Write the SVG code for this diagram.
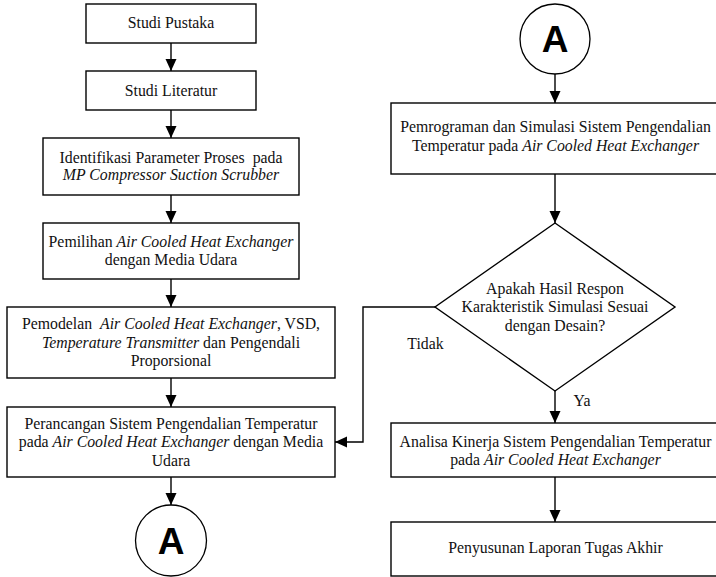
<svg xmlns="http://www.w3.org/2000/svg" width="716" height="577" viewBox="0 0 716 577">
<defs>
<style>
.box{fill:#fff;stroke:#000;stroke-width:1.4}
.t{font-family:'Liberation Serif','Times New Roman',serif;font-size:15.8px;fill:#111;text-anchor:middle}
.i{font-style:italic}
.c{fill:#fff;stroke:#000;stroke-width:1.3}
.ct{font-family:'Liberation Sans',Arial,sans-serif;font-weight:bold;font-size:37px;text-anchor:middle;fill:#000}
.ln{fill:none;stroke:#000;stroke-width:1.4}
</style>
<marker id="ah" markerWidth="12" markerHeight="12" viewBox="0 0 12 12" refX="12" refY="6" orient="auto" markerUnits="userSpaceOnUse">
<path d="M0,0.5 L12,6 L0,11.5 z" fill="#000"/>
</marker>
</defs>
<rect width="716" height="577" fill="#fff"/>

<g id="connectors">
<line class="ln" x1="171" y1="43" x2="171" y2="71" marker-end="url(#ah)"/>
<line class="ln" x1="171" y1="110" x2="171" y2="138" marker-end="url(#ah)"/>
<line class="ln" x1="171" y1="195" x2="171" y2="223" marker-end="url(#ah)"/>
<line class="ln" x1="171" y1="279" x2="171" y2="307" marker-end="url(#ah)"/>
<line class="ln" x1="171" y1="378" x2="171" y2="407" marker-end="url(#ah)"/>
<line class="ln" x1="171" y1="477" x2="171" y2="505" marker-end="url(#ah)"/>
<line class="ln" x1="555" y1="74" x2="555" y2="103" marker-end="url(#ah)"/>
<line class="ln" x1="555" y1="174" x2="555" y2="223" marker-end="url(#ah)"/>
<line class="ln" x1="555" y1="391" x2="555" y2="423" marker-end="url(#ah)"/>
<line class="ln" x1="555" y1="477" x2="555" y2="522" marker-end="url(#ah)"/>
<polyline class="ln" points="435,307 363,307 363,442 335,442" marker-end="url(#ah)"/>
<text class="t" x="425.5" y="349">Tidak</text>
<text class="t" x="582" y="406">Ya</text>
</g>

<g id="n1">
<rect class="box" x="86" y="4" width="170" height="39"/>
<text class="t" x="171" y="28">Studi Pustaka</text>
</g>
<g id="n2">
<rect class="box" x="86" y="71" width="170" height="39"/>
<text class="t" x="171" y="96">Studi Literatur</text>
</g>
<g id="n3">
<rect class="box" x="43" y="138" width="256" height="57"/>
<text class="t" x="171" y="163">Identifikasi Parameter Proses <tspan dx="4">pada</tspan></text>
<text class="t i" x="171" y="180">MP Compressor Suction Scrubber</text>
</g>
<g id="n4">
<rect class="box" x="43" y="223" width="256" height="56"/>
<text class="t" x="171" y="247">Pemilihan <tspan class="i">Air Cooled Heat Exchanger</tspan></text>
<text class="t" x="171" y="265">dengan Media Udara</text>
</g>
<g id="n5">
<rect class="box" x="7" y="307" width="328" height="71"/>
<text class="t" x="171" y="329">Pemodelan <tspan class="i" dx="4">Air Cooled Heat Exchanger</tspan>, VSD,</text>
<text class="t" x="171" y="348"><tspan class="i">Temperature Transmitter</tspan> dan Pengendali</text>
<text class="t" x="171" y="366">Proporsional</text>
</g>
<g id="n6">
<rect class="box" x="7" y="407" width="328" height="70"/>
<text class="t" x="171" y="429">Perancangan Sistem Pengendalian Temperatur</text>
<text class="t" x="171" y="447">pada <tspan class="i">Air Cooled Heat Exchanger</tspan> dengan Media</text>
<text class="t" x="171" y="466">Udara</text>
</g>
<g id="nA1">
<circle class="c" cx="171" cy="540.5" r="35.5"/>
<text class="ct" x="171" y="553.5">A</text>
</g>
<g id="nA2">
<circle class="c" cx="555" cy="39" r="35"/>
<text class="ct" x="555" y="52">A</text>
</g>
<g id="n7">
<rect class="box" x="391" y="103" width="328" height="71"/>
<text class="t" x="555.5" y="132">Pemrograman dan Simulasi Sistem Pengendalian</text>
<text class="t" x="555.5" y="151">Temperatur pada <tspan class="i">Air Cooled Heat Exchanger</tspan></text>
</g>
<g id="n8">
<polygon class="box" points="555,223 675,307 555,391 435,307"/>
<text class="t" x="555" y="294">Apakah Hasil Respon</text>
<text class="t" x="555" y="312">Karakteristik Simulasi Sesuai</text>
<text class="t" x="555" y="331">dengan Desain?</text>
</g>
<g id="n9">
<rect class="box" x="391" y="423" width="328" height="54"/>
<text class="t" x="555.5" y="447">Analisa Kinerja Sistem Pengendalian Temperatur</text>
<text class="t" x="555.5" y="465">pada <tspan class="i">Air Cooled Heat Exchanger</tspan></text>
</g>
<g id="n10">
<rect class="box" x="391" y="522" width="328" height="54"/>
<text class="t" x="555.5" y="553">Penyusunan Laporan Tugas Akhir</text>
</g>
</svg>
